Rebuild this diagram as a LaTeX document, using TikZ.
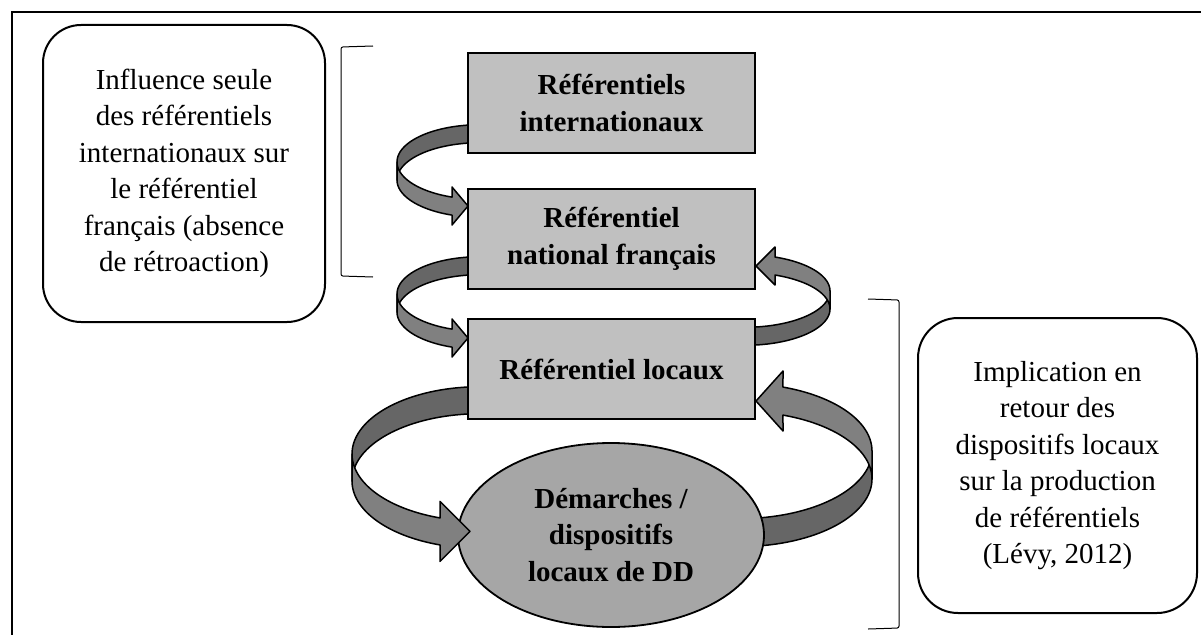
\documentclass[tikz,border=0pt]{standalone}
\usepackage{fontspec}
\setmainfont{Liberation Serif}
\usetikzlibrary{shapes.geometric}
\definecolor{boxgray}{HTML}{C0C0C0}
\definecolor{ellgray}{HTML}{A6A6A6}
\definecolor{bandlightc}{HTML}{808080}
\definecolor{banddarkc}{HTML}{666666}
\tikzset{
  refbox/.style={draw, line width=1.8pt, fill=boxgray, minimum width=287pt, minimum height=100pt, inner sep=0pt, align=center, font=\fontsize{29}{36.5}\selectfont\bfseries},
  refell/.style={ellipse, draw, line width=1.8pt, fill=ellgray, minimum width=306pt, minimum height=184pt, inner sep=0pt, align=center, font=\fontsize{29}{36.5}\selectfont\bfseries},
  sidebox/.style={draw, line width=2pt, fill=white, inner sep=0pt, align=center, font=\fontsize{29}{36.5}\selectfont},
  bandlight/.style={draw, line width=1.5pt, fill=bandlightc, line join=round},
  banddark/.style={draw, line width=1.5pt, fill=banddarkc, line join=round},
  bracketline/.style={draw, line width=1pt, rounded corners=2pt},
}
\begin{document}
\begin{tikzpicture}[x=1pt,y=-1pt]
\useasboundingbox (0,0) rectangle (1201,634);
\clip (0,0) rectangle (1201,634);
% outer frame
\draw[line width=2pt] (12,12) rectangle (1240,670);
% side boxes
\node[sidebox, minimum width=282pt, minimum height=297pt, rounded corners=38pt] (lbox) at (184,173.5)
  {Influence seule\\des référentiels\\internationaux sur\\le référentiel\\français (absence\\de rétroaction)};
\node[sidebox, minimum width=279pt, minimum height=295pt, rounded corners=40pt] (rbox) at (1057.5,465.5)
  {Implication en\\retour des\\dispositifs locaux\\sur la production\\de référentiels\\(Lévy, 2012)};
% brackets
\coordinate (lbt) at (373,46);
\coordinate (lbb) at (373,277);
\draw[bracketline] (lbt) -- (341,47) -- (341,276) -- (lbb);
\coordinate (rbt) at (868,299);
\coordinate (rbb) at (868,629);
\draw[bracketline] (rbt) -- (899,300) -- (899,628) -- (rbb);
% loop A : b1 -> b2
\path[banddark] plot[domain=270:180,samples=30] ({480+83*cos(\x)},{162+37.3*sin(\x)})
  -- plot[domain=180:270,samples=30] ({480+83*cos(\x)},{180+37.3*sin(\x)}) -- cycle;
\path[bandlight] plot[domain=180:109.7,samples=30] ({480+83*cos(\x)},{162+37.3*sin(\x)})
  -- (452,187) -- (468,206) -- (452,225)
  -- plot[domain=109.7:180,samples=30] ({480+83*cos(\x)},{180+37.3*sin(\x)}) -- cycle;
% loop B : b2 -> b3
\path[banddark] plot[domain=270:180,samples=30] ({480+83*cos(\x)},{294+37.3*sin(\x)})
  -- plot[domain=180:270,samples=30] ({480+83*cos(\x)},{312+37.3*sin(\x)}) -- cycle;
\path[bandlight] plot[domain=180:109.7,samples=30] ({480+83*cos(\x)},{294+37.3*sin(\x)})
  -- (452,319) -- (468,338) -- (452,357)
  -- plot[domain=109.7:180,samples=30] ({480+83*cos(\x)},{312+37.3*sin(\x)}) -- cycle;
% loop C : b3 -> b2 (right)
\path[banddark] plot[domain=90:0,samples=30] ({745+85*cos(\x)},{291+36.3*sin(\x)})
  -- plot[domain=0:90,samples=30] ({745+85*cos(\x)},{309+36.3*sin(\x)}) -- cycle;
\path[bandlight] plot[domain=360:290.7,samples=30] ({745+85*cos(\x)},{291+36.3*sin(\x)})
  -- (775,247) -- (756,266) -- (775,285)
  -- plot[domain=290.7:360,samples=30] ({745+85*cos(\x)},{309+36.3*sin(\x)}) -- cycle;
% loop D : ellipse -> b3 (right)
\path[banddark] plot[domain=90:0,samples=40] ({740+132*cos(\x)},{451+67.6*sin(\x)})
  -- plot[domain=0:90,samples=40] ({740+132*cos(\x)},{479+67.6*sin(\x)}) -- cycle;
\path[bandlight] plot[domain=360:289,samples=40] ({740+132*cos(\x)},{451+67.6*sin(\x)})
  -- (783,371) -- (756,401) -- (783,431)
  -- plot[domain=289:360,samples=40] ({740+132*cos(\x)},{479+67.6*sin(\x)}) -- cycle;
% loop E tail : b3 -> ellipse (left)
\path[banddark] plot[domain=270:180,samples=40] ({480+128*cos(\x)},{454+67.3*sin(\x)})
  -- plot[domain=180:270,samples=40] ({480+128*cos(\x)},{481+67.3*sin(\x)}) -- cycle;
% main nodes
\node[refbox] (b1) at (611.5,103) {Référentiels\\internationaux};
\node[refbox] (b2) at (611.5,239) {Référentiel\\national français};
\node[refbox] (b3) at (611.5,369) {Référentiel locaux};
\node[refell] (dd) at (611,535) {Démarches /\\dispositifs\\locaux de DD};
% loop E head
\path[bandlight] plot[domain=180:108.2,samples=40] ({480+128*cos(\x)},{454+67.3*sin(\x)})
  -- (440,501.4) -- (470,531.4) -- (440,561.4)
  -- plot[domain=108.2:180,samples=40] ({480+128*cos(\x)},{481+67.3*sin(\x)}) -- cycle;
\end{tikzpicture}
\end{document}
